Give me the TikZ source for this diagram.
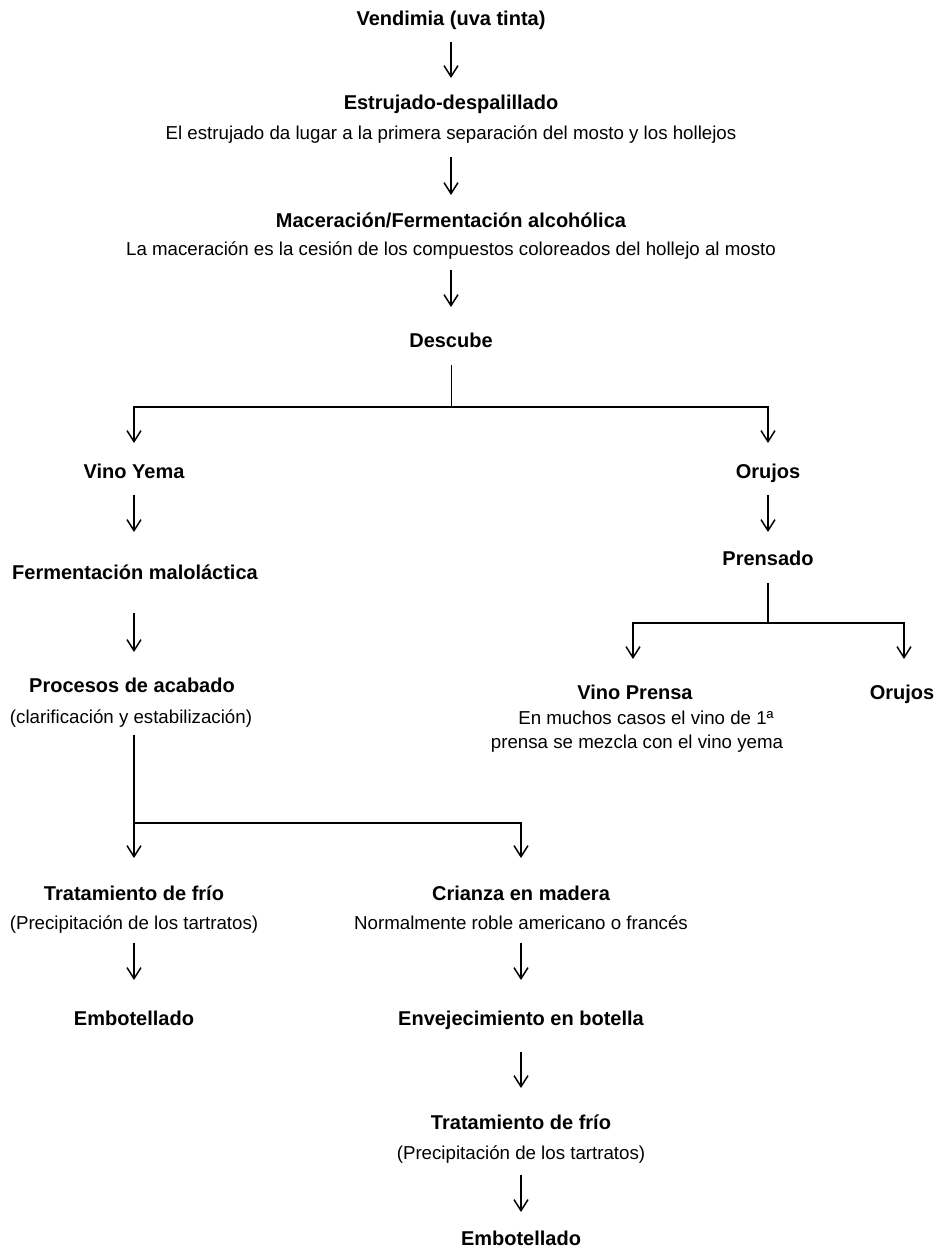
\documentclass[tikz,border=0pt]{standalone}
\usepackage{fontspec}
\setmainfont{Liberation Sans}
\usetikzlibrary{arrows.meta}
\begin{document}
\begin{tikzpicture}[x=1pt,y=-1pt,
  every node/.style={inner sep=0pt, outer sep=0pt, text depth=0pt},
  tb/.style={text height=14.3pt, font=\fontsize{20}{24}\selectfont\bfseries},
  tr/.style={text height=13.4pt, font=\fontsize{18.7}{22}\selectfont},
  ln/.style={line width=1.5pt},
  arr/.style={line width=1.5pt, -{Straight Barb[length=11pt,width=14pt,line width=1.5pt]}}]
\useasboundingbox (0,0) rectangle (936,1248);
% column coordinates
\coordinate (cx) at (451,0);
\coordinate (lx) at (134,0);
\coordinate (rx) at (768,0);
\coordinate (mx) at (521,0);
\coordinate (px) at (633,0);
\coordinate (ox) at (904,0);
% top chain
\node[tb] (vend) at (451,18) {Vendimia (uva tinta)};
\node[tb] (estr) at (451,102) {Estrujado-despalillado};
\node[tr] (estrd) at (451,133) {El estrujado da lugar a la primera separación del mosto y los hollejos};
\node[tb] (mace) at (451,220) {Maceración/Fermentación alcohólica};
\node[tr] (maced) at (451,249) {La maceración es la cesión de los compuestos coloreados del hollejo al mosto};
\node[tb] (desc) at (451,340) {Descube};
% left branch
\node[tb] (yema) at (134,471) {Vino Yema};
\node[tb] (malo) at (135,572) {Fermentación maloláctica};
\node[tb] (acab) at (132,685) {Procesos de acabado};
\node[tr] (acabd) at (131,717) {(clarificación y estabilización)};
\node[tb] (frio1) at (134,893) {Tratamiento de frío};
\node[tr] (frio1d) at (134,923) {(Precipitación de los tartratos)};
\node[tb] (emb1) at (134,1018) {Embotellado};
% middle branch
\node[tb] (crian) at (521,893) {Crianza en madera};
\node[tr] (criand) at (521,923) {Normalmente roble americano o francés};
\node[tb] (envej) at (521,1018) {Envejecimiento en botella};
\node[tb] (frio2) at (521,1122) {Tratamiento de frío};
\node[tr] (frio2d) at (521,1153) {(Precipitación de los tartratos)};
\node[tb] (emb2) at (521,1238) {Embotellado};
% right branch
\node[tb] (oru1) at (768,471) {Orujos};
\node[tb] (pren) at (768,558) {Prensado};
\node[tb] (vpren) at (635,692) {Vino Prensa};
\node[tr] (vprend1) at (646,718) {En muchos casos el vino de 1ª};
\node[tr] (vprend2) at (637,742) {prensa se mezcla con el vino yema};
\node[tb] (oru2) at (902,692) {Orujos};
% arrows top
\draw[arr] (vend |- 0,42) -- (estr |- 0,78);
\draw[arr] (estrd |- 0,157) -- (mace |- 0,195);
\draw[arr] (maced |- 0,270) -- (desc |- 0,307);
% split after descube
\coordinate (s1) at (451,407);
\draw[line width=1pt] (desc |- 0,365) -- (s1);
\draw[arr] (s1) -| (lx |- 0,443);
\draw[arr] (s1) -| (rx |- 0,443);
% left chain
\draw[arr] (lx |- 0,495) -- (lx |- 0,532);
\draw[arr] (lx |- 0,613) -- (lx |- 0,652);
\coordinate (s3) at (134,823);
\draw[ln] (lx |- 0,735) -- (s3);
\draw[arr] (s3) -- (lx |- 0,858);
\draw[arr] (s3) -| (mx |- 0,858);
\draw[arr] (lx |- 0,943) -- (lx |- 0,980);
% middle chain
\draw[arr] (mx |- 0,943) -- (mx |- 0,980);
\draw[arr] (mx |- 0,1052) -- (mx |- 0,1088);
\draw[arr] (mx |- 0,1175) -- (mx |- 0,1212);
% right chain
\draw[arr] (rx |- 0,495) -- (rx |- 0,532);
\coordinate (s2) at (768,623);
\draw[ln] (rx |- 0,583) -- (s2);
\draw[arr] (s2) -| (px |- 0,659);
\draw[arr] (s2) -| (ox |- 0,659);
\end{tikzpicture}
\end{document}
